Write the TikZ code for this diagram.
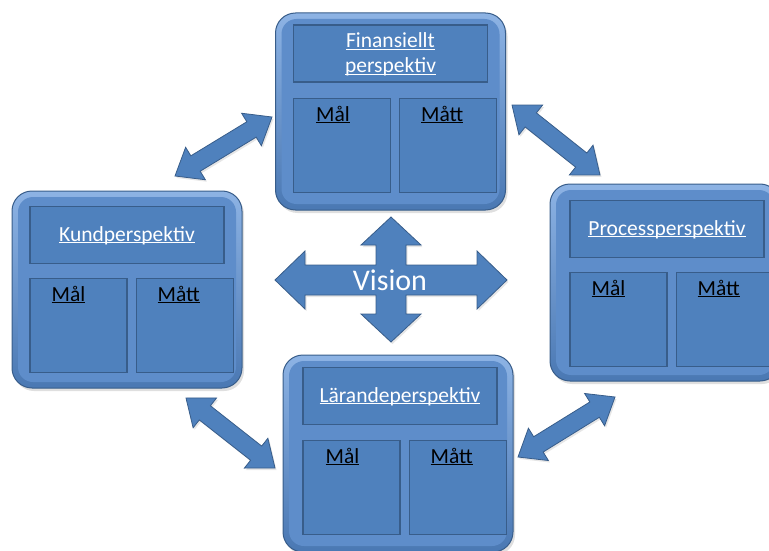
\documentclass[tikz,border=0pt]{standalone}
\usepackage{fontspec}
\setmainfont{Carlito}
\usetikzlibrary{positioning, calc, shadows}
\definecolor{boxblue}{HTML}{4F81BD}
\definecolor{boxline}{HTML}{385D8A}
\definecolor{rimlight}{HTML}{8DB3E4}
\definecolor{rimdark}{HTML}{4A78B3}
\definecolor{bodyblue}{HTML}{5E8DCA}
\newcommand{\ul}[1]{\underline{\raisebox{0pt}[\height][0pt]{#1}}} % underline just under the baseline
\tikzset{x=1pt, y=-1pt, % one unit is one pixel of the reference, y runs down
outer/.style={ % the four perspective boxes
 rounded corners=20pt, top color=rimlight, bottom color=rimdark,
 draw=boxline, line width=1pt, minimum width=230pt, minimum height=197pt,
 drop shadow={opacity=0.25, shadow xshift=2pt, shadow yshift=-3pt},
 path picture={\fill[bodyblue, rounded corners=15pt]
  ([xshift=6pt,yshift=-6pt]path picture bounding box.north west) rectangle
  ([xshift=-6pt,yshift=6pt]path picture bounding box.south east);}},
hdr/.style={ % title field
 draw=boxline, fill=boxblue, line width=1.2pt, minimum width=194pt,
 minimum height=57pt, text=white, align=center, inner sep=0pt,
 font=\fontsize{21.5}{25}\selectfont},
cell/.style={ % Mål and Mått fields
 draw=boxline, fill=boxblue, line width=1.2pt, minimum width=97pt, minimum height=94pt},
celltext/.style={inner sep=0pt, text=black, font=\fontsize{21.5}{25}\selectfont},
blockarrow/.style={fill=boxblue, draw=boxline, line width=0.8pt, line join=miter,
 drop shadow={opacity=0.2, shadow xshift=1.5pt, shadow yshift=-2pt}}}

% block arrow with a head at both ends, from #1 to #2
\newcommand{\dblarrow}[2]{%
 \coordinate (p1) at ($(#1)!24pt!(#2)$);
 \coordinate (p2) at ($(#2)!24pt!(#1)$);
 \filldraw[blockarrow] (#1) -- ($(p1)!19pt!90:(#2)$) -- ($(p1)!9pt!90:(#2)$)
  -- ($(p2)!9pt!-90:(#1)$) -- ($(p2)!19pt!-90:(#1)$) -- (#2)
  -- ($(p2)!19pt!90:(#1)$) -- ($(p2)!9pt!90:(#1)$)
  -- ($(p1)!9pt!-90:(#2)$) -- ($(p1)!19pt!-90:(#2)$) -- cycle;}

\begin{document}
\begin{tikzpicture}
    \useasboundingbox (0,0) rectangle (769,551);
    \clip (0,0) rectangle (769,551);

    % connectors between the perspectives
    \coordinate (k1) at (175,176); \coordinate (f1) at (272,117);
    \coordinate (f2) at (512,105); \coordinate (p3) at (600,175);
    \coordinate (k2) at (186,398); \coordinate (l1) at (275,468);
    \coordinate (l2) at (518,457); \coordinate (p4) at (615,397);
    \dblarrow{k1}{f1}
    \dblarrow{f2}{p3}
    \dblarrow{k2}{l1}
    \dblarrow{l2}{p4}

    \node[outer] (fin) at (390.5,111.5) {};
    \node[hdr, below=12pt of fin.north] (finh) {\ul{Finansiellt}\\\ul{perspektiv}};
    \node[cell, below right=15pt and 0pt of finh.south west] (finmal) {};
    \node[cell, right=8pt of finmal] (finmatt) {};
    \node[celltext, below=8pt of finmal.north, xshift=-9pt] (finmalt) {\ul{Mål}};
    \node[celltext, below=8pt of finmatt.north, xshift=-6pt] (finmattt) {\ul{Mått}};

    \node[outer] (kund) at (127,289.5) {};
    \node[hdr, below=15pt of kund.north] (kundh) {\ul{Kundperspektiv}};
    \node[cell, below right=14pt and 0pt of kundh.south west] (kundmal) {};
    \node[cell, right=8pt of kundmal] (kundmatt) {};
    \node[celltext, below=8pt of kundmal.north, xshift=-10pt] (kundmalt) {\ul{Mål}};
    \node[celltext, below=8pt of kundmatt.north, xshift=-6pt] (kundmattt) {\ul{Mått}};

    \node[outer] (proc) at (665,282.5) {};
    \node[hdr, below=16pt of proc.north, xshift=2pt] (proch) {\ul{Processperspektiv}};
    \node[cell, below right=14pt and 0pt of proch.south west] (procmal) {};
    \node[cell, right=8pt of procmal] (procmatt) {};
    \node[celltext, below=8pt of procmal.north, xshift=-10pt] (procmalt) {\ul{Mål}};
    \node[celltext, below=8pt of procmatt.north, xshift=-6pt] (procmattt) {\ul{Mått}};

    \node[outer] (lar) at (398,453.5) {};
    \node[hdr, below=12pt of lar.north, xshift=2pt] (larh) {\ul{Lärandeperspektiv}};
    \node[cell, below right=15pt and 0pt of larh.south west] (larmal) {};
    \node[cell, right=8pt of larmal] (larmatt) {};
    \node[celltext, below=8pt of larmal.north, xshift=-9pt] (larmalt) {\ul{Mål}};
    \node[celltext, below=8pt of larmatt.north, xshift=-6pt] (larmattt) {\ul{Mått}};

    % the vision cross in the middle
    \begin{scope}[shift={(391,280)}]
    \filldraw[blockarrow] (-116,0) -- (-86,-29) -- (-86,-15) -- (-15,-15) -- (-15,-35)
      -- (-30,-35) -- (0,-63) -- (30,-35) -- (15,-35) -- (15,-15) -- (86,-15) -- (86,-29)
      -- (116,0) -- (86,29) -- (86,15) -- (15,15) -- (15,34) -- (30,34) -- (0,62)
      -- (-30,34) -- (-15,34) -- (-15,15) -- (-86,15) -- (-86,29) -- cycle;
    \end{scope}
    \node[anchor=base, text=white, inner sep=0pt, font=\fontsize{30}{30}\selectfont] (vision) at (390,290) {Vision};

\end{tikzpicture}
\end{document}
